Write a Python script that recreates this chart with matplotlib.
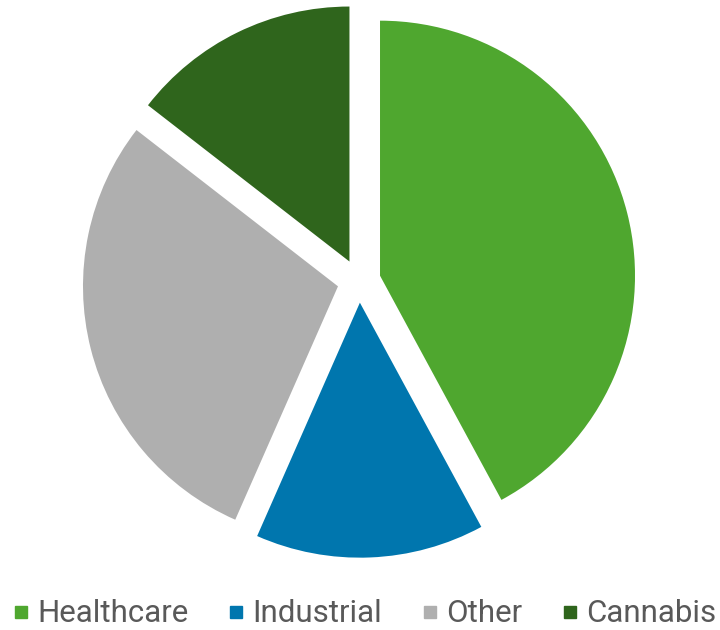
import matplotlib.pyplot as plt
from matplotlib.lines import Line2D

labels = ['Healthcare', 'Industrial', 'Other', 'Cannabis']
shares = [42.1, 14.5, 28.9, 14.5]
colors = ['#4fa72f', '#0076ae', '#afafaf', '#2f651c']

plt.rcParams['font.family'] = ['Roboto', 'DejaVu Sans']

W, H = 720, 630
cx, cy, r = 359, 281, 255

fig = plt.figure(figsize=(W / 100, H / 100), dpi=100)
ax = fig.add_axes([0, 0, 1, 1])
ax.pie(shares, colors=colors, startangle=90, counterclock=False,
       explode=[0.085] * len(shares), radius=1)
# map pixels to data units (1 unit = r pixels)
ax.set_xlim(-cx / r, (W - cx) / r)
ax.set_ylim((cy - H) / r, cy / r)
ax.set_aspect('auto')
ax.axis('off')

handles = [Line2D([], [], marker='s', linestyle='none', markersize=9,
                  markerfacecolor=c, markeredgecolor=c) for c in colors]
fig.legend(handles, labels, loc='center',
           bbox_to_anchor=(0.5 + 5 / W, 1 - 614 / H),
           ncol=4, frameon=False, fontsize=22.5, labelcolor='#595959',
           handlelength=0.45, handletextpad=0.3, columnspacing=1.3)

fig.savefig('out.png', dpi=100)
